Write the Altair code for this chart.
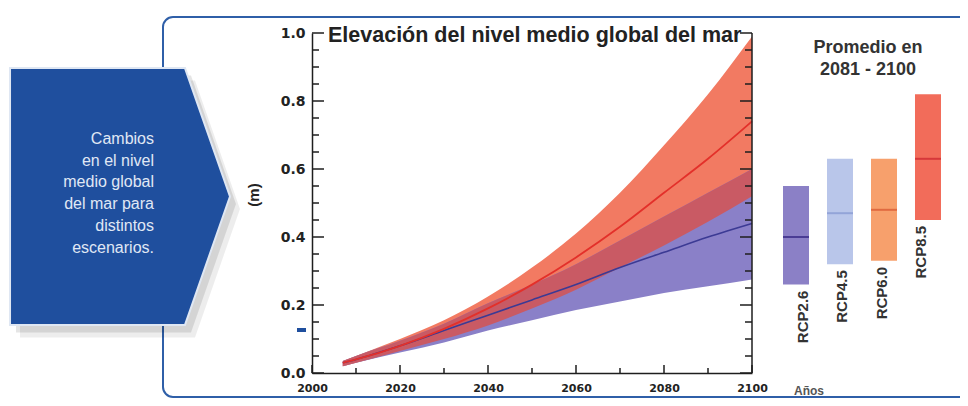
import altair as alt
import pandas as pd

# ---- data ----
years = [2007, 2010, 2020, 2030, 2040, 2050, 2060, 2070, 2080, 2090, 2100]
rcp85_mean = [0.03, 0.04, 0.08, 0.13, 0.19, 0.26, 0.34, 0.43, 0.53, 0.63, 0.74]
rcp85_low = [0.02, 0.03, 0.065, 0.10, 0.14, 0.19, 0.245, 0.31, 0.375, 0.445, 0.52]
rcp85_high = [0.035, 0.05, 0.10, 0.155, 0.225, 0.31, 0.41, 0.53, 0.67, 0.82, 0.99]
rcp26_mean = [0.03, 0.04, 0.08, 0.125, 0.17, 0.215, 0.26, 0.31, 0.355, 0.40, 0.44]
rcp26_low = [0.02, 0.03, 0.06, 0.09, 0.125, 0.155, 0.185, 0.21, 0.235, 0.255, 0.275]
rcp26_high = [0.035, 0.05, 0.095, 0.145, 0.205, 0.26, 0.32, 0.39, 0.46, 0.53, 0.60]

scenarios = ["RCP2.6", "RCP4.5", "RCP6.0", "RCP8.5"]
bar_mean = [0.40, 0.47, 0.48, 0.63]
bar_low = [0.26, 0.32, 0.33, 0.45]
bar_high = [0.55, 0.63, 0.63, 0.82]

x_label_values = [2000, 2020, 2040, 2060, 2080, 2100]
x_minor_values = [2010, 2030, 2050, 2070, 2090]
y_label_values = [0.0, 0.2, 0.4, 0.6, 0.8, 1.0]
y_minor_values = [0.05, 0.1, 0.15, 0.25, 0.3, 0.35, 0.45, 0.5, 0.55, 0.65, 0.7, 0.75,
                  0.85, 0.9, 0.95]

box_lines = ["Cambios", "en el nivel", "medio global", "del mar para", "distintos", "escenarios."]

df = pd.DataFrame({
    "year": years,
    "r85_mean": rcp85_mean, "r85_low": rcp85_low, "r85_high": rcp85_high,
    "r26_mean": rcp26_mean, "r26_low": rcp26_low, "r26_high": rcp26_high,
})
bars = pd.DataFrame({"scenario": scenarios, "mean": bar_mean, "low": bar_low, "high": bar_high})
one = pd.DataFrame({"k": [0]})

bar_fill = ["#8b80c6", "#b9c6ea", "#f7a06c", "#f26c5a"]
bar_line = ["#4a3c94", "#93a4d8", "#e06a40", "#d6383a"]

AX = "#1e1e1e"
LFONT = "DejaVu Sans"
TFONT = "Liberation Sans"

xs = alt.Scale(domain=[2000, 2100], range=[0, 440], nice=False, zero=False)
ys = alt.Scale(domain=[0, 1], nice=False)
bs = alt.Scale(domain=scenarios, range=[471, 629], paddingInner=0.409, paddingOuter=0)

# ---- decorations ----
frame = alt.Chart(one).mark_rect(
    fillOpacity=0, stroke="#2f5fa8", strokeWidth=2, cornerRadius=10
).encode(x=alt.value(-149), x2=alt.value(700), y=alt.value(-16), y2=alt.value(364))

arrow_path = "M -0.846 -0.988 L 0.5 -0.988 L 0.846 0 L 0.5 0.988 L -0.846 0.988 Z"
shadow1 = alt.Chart(one).mark_point(
    shape=arrow_path, filled=True, color="#000000", opacity=0.10, size=67600
).encode(x=alt.value(-186), y=alt.value(171))
shadow2 = alt.Chart(one).mark_point(
    shape=arrow_path, filled=True, color="#000000", opacity=0.07, size=67600
).encode(x=alt.value(-182), y=alt.value(176))
box = alt.Chart(one).mark_point(
    shape=arrow_path, filled=True, fill="#1f4f9e", stroke="#dfe7f3", strokeWidth=2,
    opacity=1, size=67600
).encode(x=alt.value(-192), y=alt.value(163.5))
box_text = alt.Chart(one).mark_text(
    align="right", baseline="alphabetic", font=TFONT, fontSize=16, color="#e0e8f5",
    lineHeight=21.7
).encode(x=alt.value(-158), y=alt.value(111), text=alt.value(box_lines))

dash = alt.Chart(one).mark_rect(color="#1f4f9e").encode(
    x=alt.value(-15), x2=alt.value(-6), y=alt.value(295), y2=alt.value(299))

# ---- time series ----
base = alt.Chart(df)
red_band = base.mark_area(color="#f27a62", interpolate="monotone").encode(
    x=alt.X("year:Q", scale=xs, axis=None),
    y=alt.Y("r85_high:Q", scale=ys, axis=None), y2="r85_low:Q")
blue_band = base.mark_area(color="#8a80c8", interpolate="monotone").encode(
    x=alt.X("year:Q", scale=xs, axis=None),
    y=alt.Y("r26_high:Q", scale=ys, axis=None), y2="r26_low:Q")
overlap = base.mark_area(color="#c95a64", interpolate="monotone").encode(
    x=alt.X("year:Q", scale=xs, axis=None),
    y=alt.Y("r26_high:Q", scale=ys, axis=None), y2="r85_low:Q")
blue_line = base.mark_line(color="#3c3a94", strokeWidth=1.6, interpolate="monotone").encode(
    x=alt.X("year:Q", scale=xs, axis=None),
    y=alt.Y("r26_mean:Q", scale=ys, axis=None))
red_line = base.mark_line(color="#e3302a", strokeWidth=1.8, interpolate="monotone").encode(
    x=alt.X("year:Q", scale=xs, axis=None),
    y=alt.Y("r85_mean:Q", scale=ys, axis=None))

# ---- axes: labels + domain lines from real axes ----
ax_main = base.mark_point(opacity=0).encode(
    x=alt.X("year:Q", scale=xs, axis=alt.Axis(
        orient="bottom", values=x_label_values, format="d", labelFont=LFONT, labelFontSize=11,
        labelFontWeight="bold", labelColor="#222", labelPadding=9, ticks=False, domain=True,
        domainColor=AX, domainWidth=1.5, grid=False, title=None, labelFlush=False,
        labelOverlap=False)),
    y=alt.Y("r85_mean:Q", scale=ys, axis=alt.Axis(
        orient="left", values=y_label_values, format=".1f", labelFont=LFONT, labelFontSize=14,
        labelFontWeight="bold", labelColor="#222", labelPadding=7, ticks=False, domain=True,
        domainColor=AX, domainWidth=1.5, grid=False, title=None, labelOverlap=False)))

yr_line = alt.Chart(pd.DataFrame({"v": [0.0], "w": [1.0]})).mark_rule(color=AX, strokeWidth=1.5).encode(
    y=alt.Y("v:Q", scale=ys, axis=None), y2="w:Q", x=alt.value(440))

# ---- inward tick marks: one symbol per tick, both ends placed through the scales ----
TO_RIGHT = "M 0 0 L 2 0"
TO_LEFT = "M -2 0 L 0 0"
UPWARD = "M 0 0 L 0 -2"


def tick(xd, yd, path, length):
    return alt.Chart(one).mark_point(
        shape=path, filled=False, stroke=AX, strokeWidth=1.5, opacity=1, size=length * length
    ).encode(
        x=alt.X(datum=xd, type="quantitative", scale=xs, axis=None),
        y=alt.Y(datum=yd, type="quantitative", scale=ys, axis=None))


tick_layers = []
for v in y_label_values:
    tick_layers.append(tick(2000, v, TO_RIGHT, 12))
    tick_layers.append(tick(2100, v, TO_LEFT, 12))
for v in y_minor_values:
    tick_layers.append(tick(2000, v, TO_RIGHT, 7))
    tick_layers.append(tick(2100, v, TO_LEFT, 7))
for yv in x_label_values:
    tick_layers.append(tick(yv, 0.0, UPWARD, 8))
for yv in x_minor_values:
    tick_layers.append(tick(yv, 0.0, UPWARD, 5))

title = alt.Chart(one).mark_text(
    align="left", baseline="alphabetic", font=TFONT, fontSize=21.5, fontWeight="bold",
    color="#222"
).encode(x=alt.value(16), y=alt.value(9), text=alt.value("Elevación del nivel medio global del mar"))
ytitle = alt.Chart(one).mark_text(
    align="center", baseline="middle", font=TFONT, fontSize=15, fontWeight="bold",
    color="#222", angle=270
).encode(x=alt.value(-58), y=alt.value(162), text=alt.value("(m)"))

# ---- right panel ----
bbase = alt.Chart(bars)
bar_rects = bbase.mark_bar().encode(
    x=alt.X("scenario:N", scale=bs, axis=None, sort=scenarios),
    y=alt.Y("high:Q", scale=ys, axis=None), y2="low:Q",
    color=alt.Color("scenario:N", scale=alt.Scale(domain=scenarios, range=bar_fill), legend=None))
bar_ticks = bbase.mark_tick(thickness=2, size=26, opacity=1).encode(
    x=alt.X("scenario:N", scale=bs, axis=None, sort=scenarios),
    y=alt.Y("mean:Q", scale=ys, axis=None),
    color=alt.Color("scenario:N", scale=alt.Scale(domain=scenarios, range=bar_line), legend=None))
bar_labels = bbase.mark_text(
    angle=270, align="right", baseline="middle", dx=-6, font=TFONT, fontSize=15,
    fontWeight="bold", color="#333"
).encode(
    x=alt.X("scenario:N", scale=bs, axis=None, sort=scenarios),
    y=alt.Y("low:Q", scale=ys, axis=None), text="scenario:N")

panel_title = alt.Chart(one).mark_text(
    align="center", baseline="alphabetic", font=TFONT, fontSize=18, fontWeight="bold",
    color="#333", lineHeight=22
).encode(x=alt.value(556), y=alt.value(20), text=alt.value(["Promedio en", "2081 - 2100"]))
anos = alt.Chart(one).mark_text(
    align="center", baseline="alphabetic", font=TFONT, fontSize=12, fontWeight="bold",
    color="#555"
).encode(x=alt.value(497), y=alt.value(362), text=alt.value("Años"))

chart = alt.layer(
    frame, shadow2, shadow1, box, box_text, dash,
    red_band, blue_band, overlap, blue_line, red_line,
    ax_main, yr_line,
    title, ytitle,
    bar_rects, bar_ticks, bar_labels, panel_title, anos,
    *tick_layers,
).resolve_scale(
    x="independent", color="independent"
).resolve_axis(
    x="independent", y="independent"
).properties(
    width=640, height=340,
    padding={"left": 304, "top": 25, "right": 8, "bottom": 25},
    autosize=alt.AutoSizeParams(type="none"),
    background="white",
).configure_view(stroke=None)

chart.save("out.html", embed_options={"renderer": "svg", "actions": False})
